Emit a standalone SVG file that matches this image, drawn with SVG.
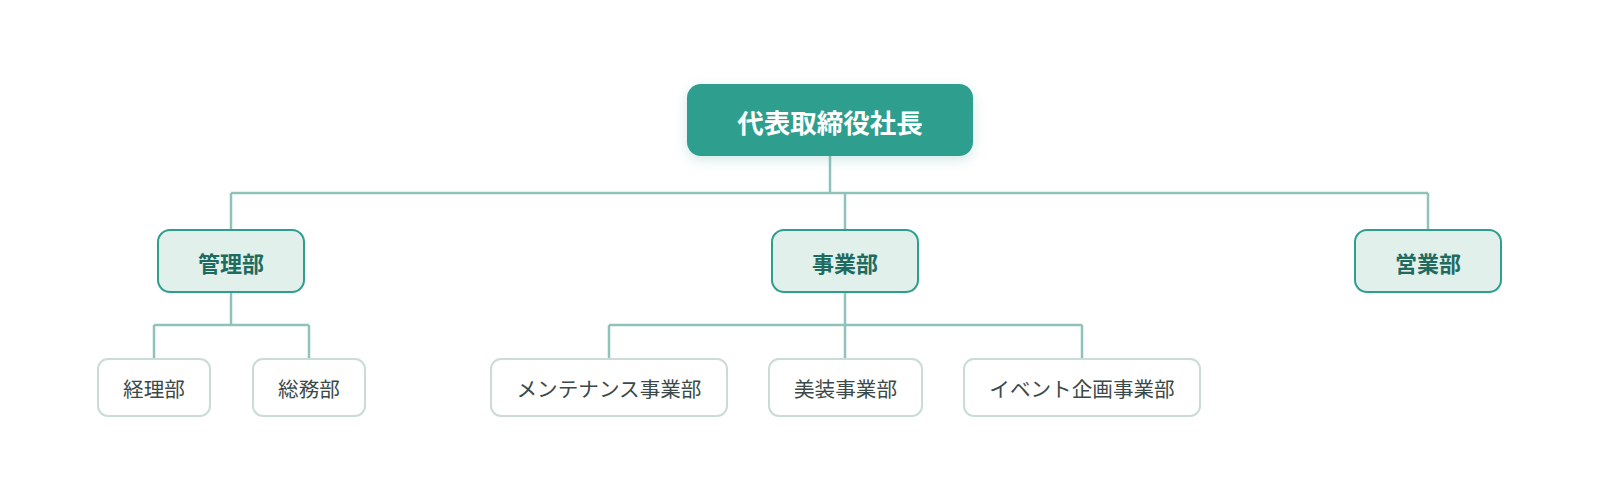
<svg xmlns="http://www.w3.org/2000/svg" width="1600" height="500" viewBox="0 0 1600 500">
  <defs>
    <filter id="shadow" x="-20%" y="-40%" width="140%" height="190%">
      <feDropShadow dx="0" dy="4" stdDeviation="6" flood-color="#2e9e8f" flood-opacity="0.22"/>
    </filter>
    <style>
      .root rect { fill: #2e9e8f; }
      .root text { fill: #ffffff; font-size: 26.5px; font-weight: 700; }
      .dept rect { fill: #e2f0ec; stroke: #2e9e8f; stroke-width: 2; }
      .dept text { fill: #1f6b60; font-size: 22px; font-weight: 700; }
      .sub rect { fill: #ffffff; stroke: #cbdcd7; stroke-width: 2; }
      .sub text { fill: #3b4a48; font-size: 20.6px; font-weight: 400; }
      text { font-family: "Noto Sans CJK JP", "Noto Sans", sans-serif; text-anchor: middle; dominant-baseline: central; }
      .conn { fill: none; stroke: #8fc3b9; stroke-width: 2.5; }
    </style>
  </defs>
  <rect width="1600" height="500" fill="#ffffff"/>

  <g id="connectors" class="conn">
    <path d="M830 156 V193"/>
    <path d="M231 193 H1428"/>
    <path d="M231 193 V230"/>
    <path d="M845 193 V230"/>
    <path d="M1428 193 V230"/>
    <path d="M231 292 V325"/>
    <path d="M154 325 H309"/>
    <path d="M154 325 V359"/>
    <path d="M309 325 V359"/>
    <path d="M845 292 V325"/>
    <path d="M609 325 H1082"/>
    <path d="M609 325 V359"/>
    <path d="M845 325 V359"/>
    <path d="M1082 325 V359"/>
  </g>

  <g id="node-ceo" class="root">
    <rect x="687" y="84" width="286" height="72" rx="14" filter="url(#shadow)"/>
    <text x="830" y="121">代表取締役社長</text>
  </g>

  <g id="node-kanri" class="dept">
    <rect x="158" y="230" width="146" height="62" rx="12"/>
    <text x="231" y="262">管理部</text>
  </g>
  <g id="node-jigyo" class="dept">
    <rect x="772" y="230" width="146" height="62" rx="12"/>
    <text x="845" y="262">事業部</text>
  </g>
  <g id="node-eigyo" class="dept">
    <rect x="1355" y="230" width="146" height="62" rx="12"/>
    <text x="1428" y="262">営業部</text>
  </g>

  <g id="node-keiri" class="sub">
    <rect x="98" y="359" width="112" height="57" rx="10"/>
    <text x="154" y="388">経理部</text>
  </g>
  <g id="node-somu" class="sub">
    <rect x="253" y="359" width="112" height="57" rx="10"/>
    <text x="309" y="388">総務部</text>
  </g>
  <g id="node-maintenance" class="sub">
    <rect x="491" y="359" width="236" height="57" rx="10"/>
    <text x="609" y="388">メンテナンス事業部</text>
  </g>
  <g id="node-biso" class="sub">
    <rect x="769" y="359" width="153" height="57" rx="10"/>
    <text x="845.5" y="388">美装事業部</text>
  </g>
  <g id="node-event" class="sub">
    <rect x="964" y="359" width="236" height="57" rx="10"/>
    <text x="1082" y="388">イベント企画事業部</text>
  </g>
</svg>
